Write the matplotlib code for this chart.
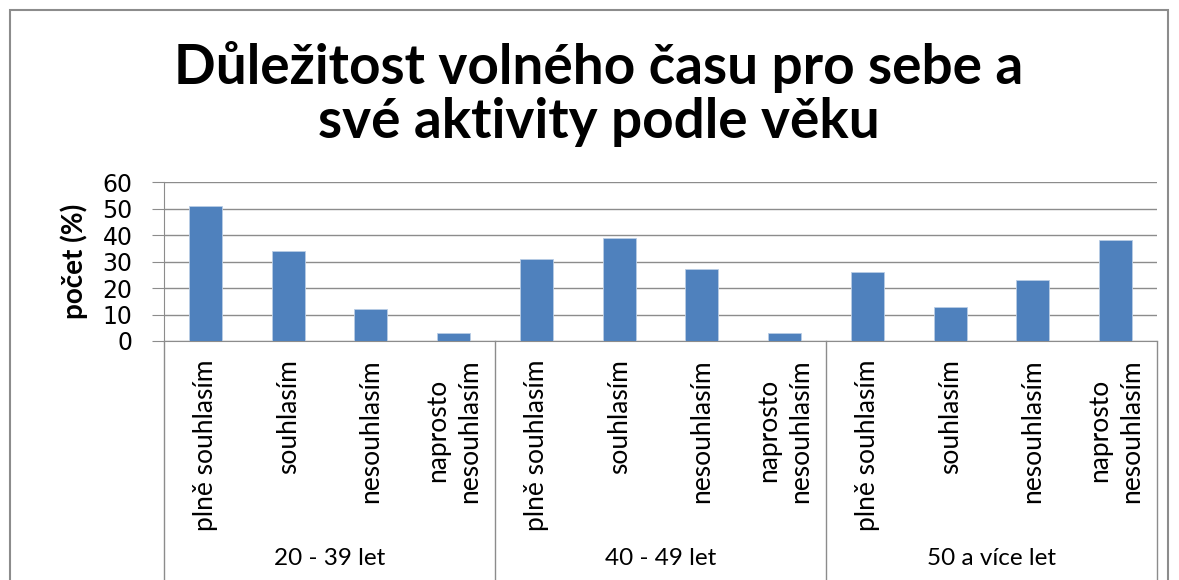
import matplotlib.pyplot as plt
from matplotlib.patches import Rectangle

# data
groups = ["20 - 39 let", "40 - 49 let", "50 a více let"]
answers = ["plně souhlasím", "souhlasím", "nesouhlasím", "naprosto\nnesouhlasím"]
values_20_39 = [51, 34, 12, 3]
values_40_49 = [31, 39, 27, 3]
values_50 = [26, 13, 23, 38]

plt.rcParams["font.family"] = ["Lato", "DejaVu Sans"]

values = values_20_39 + values_40_49 + values_50
labels = answers * len(groups)
x = list(range(len(values)))

fig = plt.figure(figsize=(11.79, 5.80), dpi=100)
fig.patches.append(Rectangle((10 / 1179, -0.1), 1158 / 1179, 1.1 - 10 / 580,
                             transform=fig.transFigure, fill=False,
                             edgecolor="#8c8c8c", linewidth=1.5))

ax = fig.add_axes([164 / 1179, 1 - 341 / 580, 993 / 1179, 159 / 580])
ax.bar(x, values, width=0.4, color="#4F81BD", edgecolor="#B9CDE5",
       linewidth=0.6, zorder=3)

ax.set_xlim(-0.5, len(values) - 0.5)
ax.set_ylim(0, 60)
ax.set_yticks(range(0, 61, 10))
ax.tick_params(axis="y", labelsize=17, length=8.6, color="#8c8c8c", pad=14)
for t in ax.get_yticklabels():
    t.set_family("DejaVu Sans")
ax.yaxis.grid(True, color="#8c8c8c", linewidth=1)
ax.set_axisbelow(True)
for s in ["top", "right"]:
    ax.spines[s].set_visible(False)
for s in ["left", "bottom"]:
    ax.spines[s].set_color("#8c8c8c")

ax.set_xticks(x)
ax.set_xticklabels(labels, rotation=90, fontsize=19, va="top",
                   multialignment="center", linespacing=1.35)
ax.tick_params(axis="x", length=0, pad=13)

ax.set_ylabel("počet (%)", fontsize=20, fontweight="bold", labelpad=10)

# group separators and group labels
trans = ax.get_xaxis_transform()
n = len(answers)
for i in range(len(groups) + 1):
    ax.plot([i * n - 0.5, i * n - 0.5], [0, -1.5], color="#8c8c8c",
            linewidth=1, transform=trans, clip_on=False)
for i, g in enumerate(groups):
    ax.text(i * n + (n - 1) / 2, -1.37, g, transform=trans, ha="center",
            va="center", fontsize=17.5)

fig.text(0.508, 0.838, "Důležitost volného času pro sebe a\nsvé aktivity podle věku",
         ha="center", va="center", fontsize=39.5, fontweight="bold",
         linespacing=1.12)

fig.savefig("out.png", dpi=100)
